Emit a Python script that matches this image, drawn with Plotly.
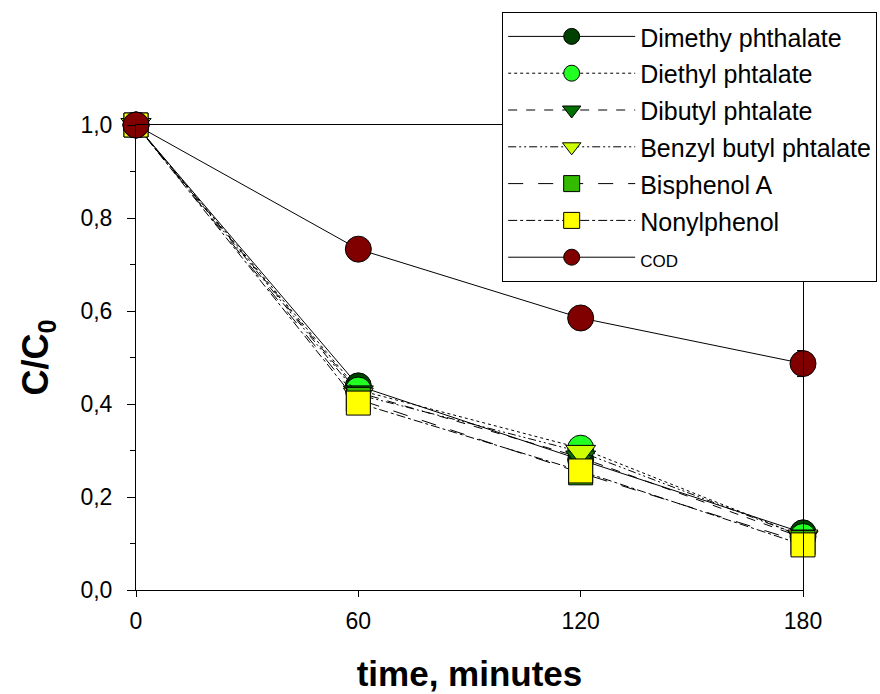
import plotly.graph_objects as go

time_min = [0, 60, 120, 180]
dimethyl = [1.0, 0.439, 0.28, 0.123]
diethyl = [1.0, 0.43, 0.305, 0.115]
dibutyl = [1.0, 0.425, 0.285, 0.112]
benzyl = [1.0, 0.42, 0.297, 0.115]
bisphenol = [1.0, 0.41, 0.252, 0.102]
nonyl = [1.0, 0.402, 0.256, 0.097]
cod = [1.0, 0.733, 0.585, 0.487]
cod_err = [0.0, 0.0, 0.0, 0.028]

labels = ["Dimethy phthalate", "Diethyl phtalate", "Dibutyl phtalate",
          "Benzyl butyl phtalate", "Bisphenol A", "Nonylphenol", "COD"]
label_sizes = [25, 25, 25, 25, 25, 25, 17]
series = [dimethyl, diethyl, dibutyl, benzyl, bisphenol, nonyl, cod]
colors = ["#004000", "#22ff22", "#007000", "#ccff00", "#33bb00", "#ffff00", "#800000"]
symbols = ["circle", "circle", "triangle-down", "triangle-down", "square", "square", "circle"]
dashes = ["solid", "dot", "dash", "8px,3px,2px,3px,2px,3px", "longdash", "dashdot", "solid"]
sizes = [26, 26, 26, 26, 24, 24, 26]

fig = go.Figure()
for i, (lab, s) in enumerate(zip(labels, series)):
    kw = {}
    if i == 6:
        kw["error_y"] = dict(type="data", array=cod_err, color="black", thickness=1, width=6)
    fig.add_trace(go.Scatter(
        x=time_min, y=s,
        name=f"<span style='font-size:{label_sizes[i]}px'>{lab}</span>",
        mode="lines+markers", cliponaxis=False,
        line=dict(color="black", width=1, dash=dashes[i]),
        marker=dict(symbol=symbols[i], size=sizes[i], color=colors[i],
                    line=dict(color="black", width=1)),
        **kw))

fig.update_layout(
    width=880, height=694, autosize=False,
    margin=dict(l=136, r=77, t=125, b=104, autoexpand=False),
    paper_bgcolor="white", plot_bgcolor="white",
    separators=",.",
    font=dict(family="Liberation Sans, Arial, sans-serif", size=23, color="black"),
    showlegend=True,
    legend=dict(x=0.549, y=1.243, xanchor="left", yanchor="top",
                bordercolor="black", borderwidth=1, bgcolor="white",
                font=dict(size=26), itemwidth=127, tracegroupgap=0),
    xaxis=dict(range=[0, 180], tickvals=[0, 60, 120, 180], showline=True,
               linecolor="black", linewidth=1, mirror=True, ticks="outside",
               ticklen=6, tickcolor="black", showgrid=False, zeroline=False,
               ticklabelstandoff=4, automargin=False,
               title=dict(text="<b>time, minutes</b>", font=dict(size=35), standoff=28)),
    yaxis=dict(range=[0, 1.0], dtick=0.2, tickformat=".1f", showline=True,
               linecolor="black", linewidth=1, mirror=True, ticks="outside",
               ticklen=8, tickcolor="black", showgrid=False, zeroline=False,
               ticklabelstandoff=10, automargin=False,
               minor=dict(ticks="outside", dtick=0.1, ticklen=5, tickcolor="black"),
               title=dict(text="<b>C/C<sub>0</sub></b>", font=dict(size=36), standoff=20)),
)

fig.write_html("out.html")
